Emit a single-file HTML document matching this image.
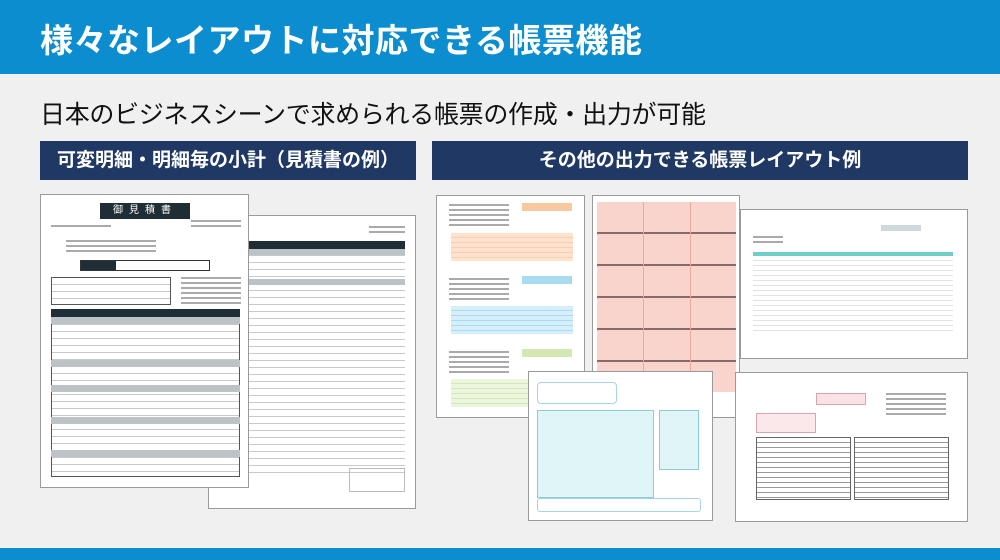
<!DOCTYPE html>
<html><head><meta charset="utf-8"><style>
*{margin:0;padding:0;box-sizing:border-box}
body{width:1000px;height:560px;background:#f0f0f0;position:relative;overflow:hidden;font-family:"Liberation Sans","Noto Sans CJK JP",sans-serif}
.a{position:absolute}
.doc{position:absolute;background:#fff;border:1px solid #9a9a9a}
.hd{position:absolute;background:#1e2d36}
.rows{position:absolute;background:repeating-linear-gradient(#fff 0 6px,#c9c9c9 6px 7px)}
.tx{position:absolute;background:repeating-linear-gradient(#aaa 0 2px,transparent 2px 5px)}
</style></head><body>
<div class="a" style="left:0;top:0;width:1000px;height:74px;background:#0c8dd0"></div>
<div class="a" style="left:40px;top:14px;color:#fff;font-size:33px;font-weight:bold;letter-spacing:0.5px">様々なレイアウトに対応できる帳票機能</div>
<div class="a" style="left:40px;top:95px;color:#111;font-size:25px;letter-spacing:-0.3px">日本のビジネスシーンで求められる帳票の作成・出力が可能</div>
<div class="a" style="left:40px;top:141px;width:376px;height:39px;background:#1f3864;color:#fff;font-size:19px;font-weight:bold;text-align:center;line-height:39px">可変明細・明細毎の小計（見積書の例）</div>
<div class="a" style="left:432px;top:141px;width:536px;height:39px;background:#1f3864;color:#fff;font-size:19px;font-weight:bold;text-align:center;line-height:39px">その他の出力できる帳票レイアウト例</div>
<div class="a" style="left:0;top:548px;width:1000px;height:12px;background:#0c8dd0"></div>

<div class="doc" style="left:208px;top:215px;width:208px;height:294px">
 <div class="tx" style="left:160px;top:10px;width:36px;height:7px"></div>
 <div class="hd" style="left:40px;top:25px;width:156px;height:8px"></div>
 <div class="rows" style="left:40px;top:33px;width:156px;height:230px"></div>
 <div class="a" style="left:40px;top:33px;width:156px;height:6px;background:#bcc3c7"></div>
 <div class="a" style="left:40px;top:63px;width:156px;height:6px;background:#bcc3c7"></div>
 <div class="a" style="left:140px;top:252px;width:56px;height:24px;border:1px solid #bbb"></div>
</div>
<div class="doc" style="left:40px;top:194px;width:209px;height:294px">
 <div class="hd" style="left:59px;top:8px;width:90px;height:16px;color:#fff;font-size:10px;text-align:center;line-height:16px;letter-spacing:6px">御見積書</div>
 <div class="tx" style="left:10px;top:30px;width:60px;height:4px"></div>
 <div class="tx" style="left:150px;top:25px;width:50px;height:9px"></div>
 <div class="tx" style="left:25px;top:45px;width:90px;height:12px"></div>
 <div class="a" style="left:39px;top:65px;width:130px;height:11px;border:1px solid #333"></div>
 <div class="hd" style="left:40px;top:66px;width:35px;height:9px"></div>
 <div class="rows" style="left:10px;top:82px;width:120px;height:28px;border:1px solid #555"></div>
 <div class="tx" style="left:140px;top:82px;width:60px;height:27px"></div>
 <div class="hd" style="left:10px;top:114px;width:189px;height:8px"></div>
 <div class="rows" style="left:10px;top:122px;width:189px;height:160px;border:1px solid #555"></div>
 <div class="a" style="left:10px;top:122px;width:189px;height:7px;background:#bcc3c7"></div>
 <div class="a" style="left:10px;top:165px;width:189px;height:7px;background:#bcc3c7"></div>
 <div class="a" style="left:10px;top:190px;width:189px;height:7px;background:#bcc3c7"></div>
 <div class="a" style="left:10px;top:222px;width:189px;height:7px;background:#bcc3c7"></div>
 <div class="a" style="left:10px;top:255px;width:189px;height:7px;background:#bcc3c7"></div>
</div>

<div class="doc" style="left:436px;top:195px;width:149px;height:223px">
 <div class="tx" style="left:12px;top:8px;width:60px;height:25px"></div>
 <div class="a" style="left:85px;top:7px;width:50px;height:8px;background:#f7c9a0"></div>
 <div class="rows" style="left:14px;top:37px;width:122px;height:28px;background:repeating-linear-gradient(#fde3cf 0 4px,#f9d0ae 4px 5px)"></div>
 <div class="tx" style="left:12px;top:82px;width:60px;height:25px"></div>
 <div class="a" style="left:85px;top:80px;width:50px;height:8px;background:#a9dcf0"></div>
 <div class="rows" style="left:14px;top:110px;width:122px;height:28px;background:repeating-linear-gradient(#d6eefa 0 4px,#a9dcf0 4px 5px)"></div>
 <div class="tx" style="left:12px;top:155px;width:60px;height:25px"></div>
 <div class="a" style="left:85px;top:153px;width:50px;height:8px;background:#d4e8b4"></div>
 <div class="rows" style="left:14px;top:183px;width:122px;height:28px;background:repeating-linear-gradient(#ecf5dd 0 4px,#d4e8b4 4px 5px)"></div>
</div>
<div class="doc" style="left:592px;top:195px;width:148px;height:223px">
 <div class="a" style="left:4px;top:6px;width:139px;height:190px;background:repeating-linear-gradient(#f9d4cc 0 30px,#8a6a66 30px 32px)"></div>
 <div class="a" style="left:50px;top:6px;width:1px;height:190px;background:#e8a89c"></div>
 <div class="a" style="left:97px;top:6px;width:1px;height:190px;background:#e8a89c"></div>
</div>
<div class="doc" style="left:740px;top:209px;width:228px;height:150px">
 <div class="a" style="left:140px;top:15px;width:40px;height:6px;background:#cfd9dd"></div>
 <div class="tx" style="left:12px;top:26px;width:30px;height:7px"></div>
 <div class="a" style="left:12px;top:42px;width:200px;height:4px;background:#6fcfc8"></div>
 <div class="rows" style="left:12px;top:46px;width:200px;height:75px;background:repeating-linear-gradient(#fff 0 4px,#e3e3e3 4px 5px)"></div>
</div>
<div class="doc" style="left:528px;top:371px;width:185px;height:150px">
 <div class="a" style="left:8px;top:10px;width:80px;height:22px;border:1px solid #a9d3e6;border-radius:4px"></div>
 <div class="a" style="left:8px;top:38px;width:117px;height:88px;background:#dff5f8;border:1px solid #8fcbd6"></div>
 <div class="a" style="left:130px;top:38px;width:40px;height:60px;background:#dff5f8;border:1px solid #8fcbd6"></div>
 <div class="a" style="left:8px;top:126px;width:164px;height:14px;border:1px solid #a9d3e6;border-radius:3px"></div>
</div>
<div class="doc" style="left:735px;top:372px;width:233px;height:150px">
 <div class="a" style="left:80px;top:20px;width:50px;height:12px;background:#fbe2e4;border:1px solid #d9a5ab"></div>
 <div class="tx" style="left:150px;top:20px;width:60px;height:25px"></div>
 <div class="a" style="left:20px;top:40px;width:60px;height:20px;background:#fbe8ea;border:1px solid #d9a5ab"></div>
 <div class="rows" style="left:20px;top:64px;width:95px;height:63px;background:repeating-linear-gradient(#fff 0 4px,#999 4px 5px);border:1px solid #666"></div>
 <div class="rows" style="left:118px;top:64px;width:95px;height:63px;background:repeating-linear-gradient(#fff 0 4px,#999 4px 5px);border:1px solid #666"></div>
</div>
</body></html>
